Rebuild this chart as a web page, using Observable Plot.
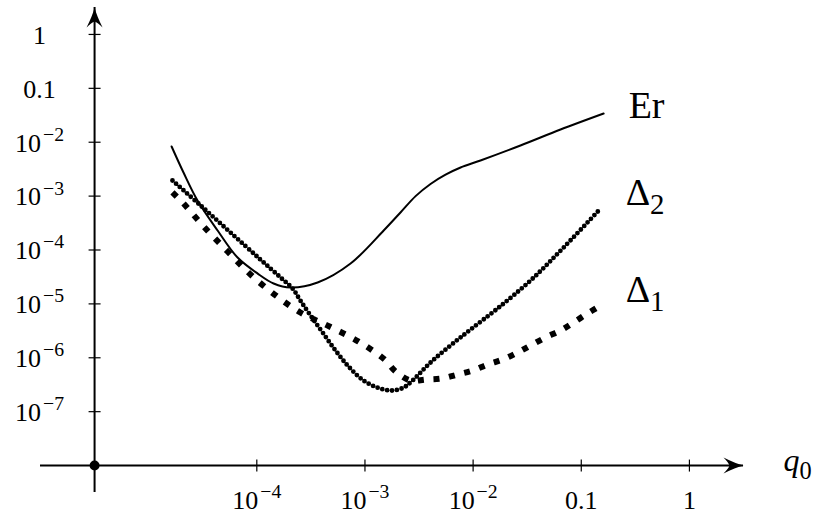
<!DOCTYPE html>
<html><head><meta charset="utf-8">
<script src="https://cdn.jsdelivr.net/npm/d3@7"></script>
<script src="https://cdn.jsdelivr.net/npm/@observablehq/plot@0.6"></script>
<style>html,body{margin:0;padding:0;background:#fff;} svg{display:block}</style>
</head><body><div id="chart"></div>
<script>
// Er (solid line)
const erQ   = [1.63e-5, 2.10e-5, 2.83e-5, 4.34e-5, 6.64e-5, 1.02e-4, 1.43e-4, 2.05e-4, 3.65e-4, 7.36e-4, 1.49e-3, 2.13e-3, 2.94e-3, 4.04e-3, 5.56e-3, 7.66e-3, 1.17e-2, 2.74e-2, 6.43e-2, 0.161];
const erVal = [8.34e-3, 2.74e-3, 8.28e-4, 2.30e-4, 7.24e-5, 3.65e-5, 2.39e-5, 2.01e-5, 2.49e-5, 5.61e-5, 2.30e-4, 4.97e-4, 1.00e-3, 1.68e-3, 2.50e-3, 3.40e-3, 4.58e-3, 8.69e-3, 1.72e-2, 3.41e-2];
// Delta_2 (round dots)
const d2Q   = [1.66e-5, 3.02e-5, 5.71e-5, 1.08e-4, 1.66e-4, 2.14e-4, 2.53e-4, 3.14e-4, 4.06e-4, 5.35e-4, 7.05e-4, 9.71e-4, 1.34e-3, 1.80e-3, 2.28e-3, 2.75e-3, 4.04e-3, 6.18e-3, 9.46e-3, 1.68e-2, 3.40e-2, 6.86e-2, 0.151];
const d2Val = [1.95e-3, 6.70e-4, 2.11e-4, 6.65e-5, 3.08e-5, 1.93e-5, 1.15e-5, 6.08e-6, 2.94e-6, 1.36e-6, 6.88e-7, 3.78e-7, 2.74e-7, 2.47e-7, 2.80e-7, 3.78e-7, 8.17e-7, 1.69e-6, 3.34e-6, 8.20e-6, 2.72e-5, 1.11e-4, 5.89e-4];
// Delta_1 (square dots)
const d1Q   = [1.66e-5, 2.10e-5, 3.29e-5, 5.37e-5, 8.57e-5, 1.46e-4, 2.53e-4, 4.71e-4, 8.73e-4, 1.52e-3, 1.92e-3, 2.64e-3, 3.63e-3, 5.11e-3, 7.18e-3, 9.89e-3, 1.36e-2, 1.87e-2, 2.58e-2, 3.40e-2, 4.67e-2, 6.43e-2, 8.47e-2, 0.114, 0.151];
const d1Val = [1.17e-3, 7.29e-4, 2.61e-4, 9.38e-5, 3.65e-5, 1.49e-5, 6.92e-6, 3.80e-6, 2.00e-6, 9.27e-7, 5.56e-7, 3.78e-7, 3.94e-7, 4.12e-7, 4.89e-7, 5.80e-7, 7.50e-7, 9.27e-7, 1.25e-6, 1.69e-6, 2.38e-6, 3.21e-6, 4.51e-6, 6.63e-6, 9.33e-6];

const seriesNames = ["Er", "Δ_2", "Δ_1"];
const xTicks = [1e-4, 1e-3, 1e-2, 0.1, 1];
const xTickLabels = ["10^−4", "10^−3", "10^−2", "0.1", "1"];
const yTicks = [1, 0.1, 1e-2, 1e-3, 1e-4, 1e-5, 1e-6, 1e-7];
const yTickLabels = ["1", "0.1", "10^−2", "10^−3", "10^−4", "10^−5", "10^−6", "10^−7"];
const xAxisName = "q_0";
const xSpan = [1e-6, Math.pow(10, 0.5)];
const ySpan = [Math.pow(10, -8.5), Math.pow(10, 0.5)];
const originQ = Math.pow(10, -5.5);
const originV = 1e-8;

const toRows = (qs, vs) => qs.map((q, i) => ({q, v: vs[i]}));
const er = toRows(erQ, erVal), d2 = toRows(d2Q, d2Val), d1 = toRows(d1Q, d1Val);

const FONT = "'Liberation Serif', 'Times New Roman', serif";
const tickV = {draw(c) { c.moveTo(0, -6); c.lineTo(0, 6); }};
const tickH = {draw(c) { c.moveTo(-6, 0); c.lineTo(6, 0); }};
const arrowRight = {draw(c) {
  c.moveTo(0, 0); c.quadraticCurveTo(-8, -2, -20, -8); c.quadraticCurveTo(-15, -3, -14, 0);
  c.quadraticCurveTo(-15, 3, -20, 8); c.quadraticCurveTo(-8, 2, 0, 0); c.closePath();
}};
const arrowUp = {draw(c) {
  c.moveTo(0, 0); c.quadraticCurveTo(-2, 8, -8, 20); c.quadraticCurveTo(-3, 15, 0, 14);
  c.quadraticCurveTo(3, 15, 8, 20); c.quadraticCurveTo(2, 8, 0, 0); c.closePath();
}};

const plot = Plot.plot({
  width: 814, height: 516,
  marginLeft: 40, marginRight: 71, marginTop: 7, marginBottom: 24,
  style: {fontFamily: FONT, background: "white"},
  x: {type: "log", domain: xSpan, axis: null},
  y: {type: "log", domain: ySpan, axis: null},
  marks: [
    Plot.ruleY([originV], {stroke: "black", strokeWidth: 2}),
    Plot.ruleX([originQ], {stroke: "black", strokeWidth: 2}),
    Plot.dot(xTicks, {x: d => d, y: () => originV, symbol: tickV, fill: "none", stroke: "black", strokeWidth: 1.2}),
    Plot.dot(yTicks, {x: () => originQ, y: d => d, symbol: tickH, fill: "none", stroke: "black", strokeWidth: 1.2}),
    Plot.dot([0], {x: () => xSpan[1], y: () => originV, symbol: arrowRight, fill: "black", stroke: "none"}),
    Plot.dot([0], {x: () => originQ, y: () => ySpan[1], symbol: arrowUp, fill: "black", stroke: "none"}),
    Plot.dot([0], {x: () => originQ, y: () => originV, r: 5, fill: "black", stroke: "none"}),
    Plot.text(xTicks, {x: d => d, y: () => originV, text: (d, i) => xTickLabels[i], dy: 35, fontSize: 26, fontFamily: FONT, fill: "black"}),
    Plot.text(yTicks, {x: () => originQ, y: d => d, text: (d, i) => yTickLabels[i], dx: -55, dy: 1, fontSize: 26, fontFamily: FONT, fill: "black"}),
    Plot.text([xAxisName], {x: () => xSpan[1], y: () => originV, text: d => d, dx: 40, dy: -5, textAnchor: "start", fontSize: 32, fontStyle: "italic", fontFamily: FONT, fill: "black"}),
    Plot.line(er, {x: "q", y: "v", curve: "catmull-rom", stroke: "black", strokeWidth: 2}),
    Plot.line(d2, {x: "q", y: "v", curve: "catmull-rom", stroke: "black", strokeWidth: 4.8, strokeDasharray: "0,4.9", strokeLinecap: "round"}),
    Plot.line(d1, {x: "q", y: "v", curve: "catmull-rom", stroke: "black", strokeWidth: 6, strokeDasharray: "6,9.7", strokeLinecap: "butt"}),
    Plot.text([er.at(-1)], {x: "q", y: "v", text: () => seriesNames[0], dx: 25, dy: -8, textAnchor: "start", fontSize: 38, fontFamily: FONT, fill: "black"}),
    Plot.text([d2.at(-1)], {x: "q", y: "v", text: () => seriesNames[1], dx: 25, dy: -16, textAnchor: "start", fontSize: 38, fontFamily: FONT, fill: "black"}),
    Plot.text([d1.at(-1)], {x: "q", y: "v", text: () => seriesNames[2], dx: 25, dy: -16, textAnchor: "start", fontSize: 38, fontFamily: FONT, fill: "black"})
  ]
});

// turn "a^b" into superscripts and "a_b" into subscripts
plot.querySelectorAll("text").forEach(t => {
  const s = t.textContent;
  const m = s.match(/^(.*?)([\^_])(.*)$/);
  if (!m) return;
  while (t.firstChild) t.removeChild(t.firstChild);
  const ns = "http://www.w3.org/2000/svg";
  const base = document.createElementNS(ns, "tspan");
  base.textContent = m[1];
  t.appendChild(base);
  const sc = document.createElementNS(ns, "tspan");
  sc.setAttribute("font-size", "76%");
  sc.setAttribute("font-style", "normal");
  if (m[2] === "^") sc.setAttribute("dx", "0.1em");
  sc.setAttribute("dy", m[2] === "^" ? "-0.55em" : "0.32em");
  sc.textContent = m[3];
  t.appendChild(sc);
});

document.getElementById("chart").appendChild(plot);
</script>
</body></html>
